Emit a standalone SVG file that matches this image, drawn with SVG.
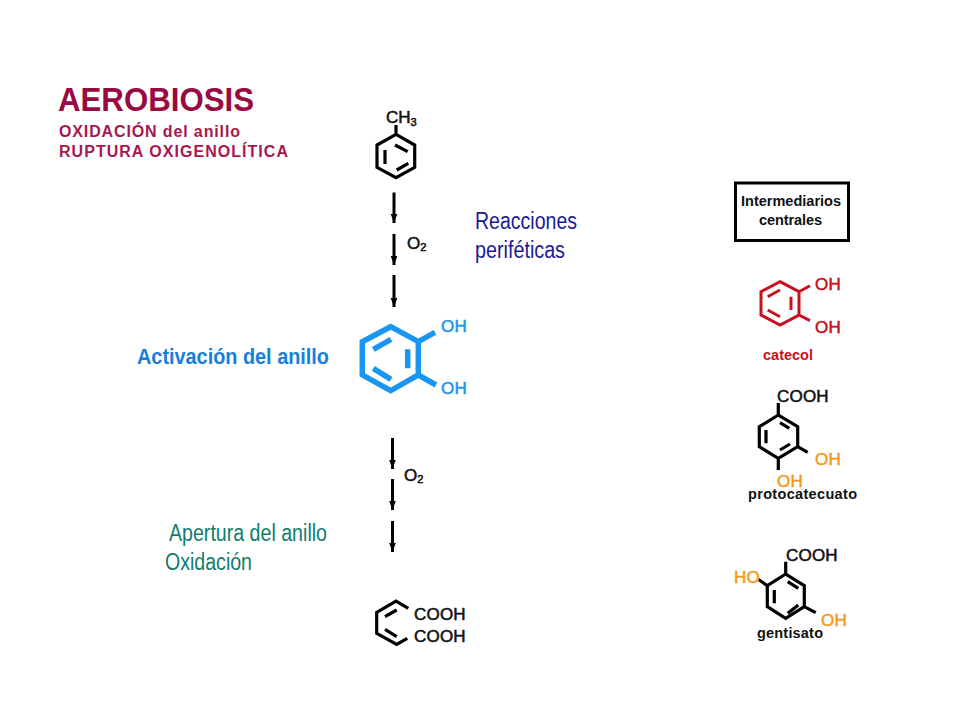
<svg xmlns="http://www.w3.org/2000/svg" width="960" height="720" viewBox="0 0 960 720">
<style>
text{font-family:"Liberation Sans",Arial,sans-serif}
.b{font-weight:bold}
.k{fill:none;stroke:#000;stroke-width:3.200;stroke-linejoin:miter}
.lab{font-size:17px;letter-spacing:.2px;fill:#111;stroke:#111;stroke-width:.55}
.tag{font-size:14.500px;font-weight:bold;fill:#111}
.sub{font-size:16px;font-weight:bold;fill:#a8174f}
.red{fill:#c8101e;stroke:#c8101e}.org{fill:#f59a1c;stroke:#f59a1c}.blu{fill:#1a96f0;stroke:#1a96f0}
.arrow{stroke:#000;stroke-width:3;fill:none;marker-end:url(#ah)}
</style>
<defs>
<marker id="ah" markerUnits="userSpaceOnUse" markerWidth="10" markerHeight="10" refX="9" refY="4" orient="auto">
<path d="M0 0.700L9 4L0 7.300Z" fill="#000"/>
</marker>
</defs>
<rect width="960" height="720" fill="#fff"/>

<g id="title">
<text x="58" y="111" class="b" font-size="33" fill="#990a42" textLength="196" lengthAdjust="spacingAndGlyphs">AEROBIOSIS</text>
<text x="59" y="137" class="sub" textLength="181">OXIDACIÓN del anillo</text>
<text x="59" y="157" class="sub" textLength="229">RUPTURA OXIGENOLÍTICA</text>
</g>

<g id="connectors">
<path class="arrow" d="M394 192.500V223"/>
<path class="arrow" d="M394 234V265"/>
<path class="arrow" d="M394 275V307"/>
<path class="arrow" d="M392.500 438V469"/>
<path class="arrow" d="M392.500 479V510"/>
<path class="arrow" d="M392.500 521V552"/>
</g>

<g id="o2-top"><text x="407" y="249" class="lab" style="letter-spacing:0">O<tspan font-size="11" dy="2">2</tspan></text></g>
<g id="o2-bottom"><text x="404" y="481" class="lab" style="letter-spacing:0">O<tspan font-size="11" dy="2">2</tspan></text></g>

<g id="toluene">
<path class="k" d="M396 125V134.300L414.700 145V167.300L396 177.700L377 167.300V145L396 134.300M385 150V164M395 145L407.700 151.700M396.700 170L408.300 163.300"/>
<text x="386" y="123" class="lab" style="letter-spacing:0">CH<tspan font-size="11" dy="3">3</tspan></text>
</g>

<g id="reacciones" fill="#1a1a96" font-size="23">
<text x="475" y="228.500" textLength="102" lengthAdjust="spacingAndGlyphs">Reacciones</text>
<text x="475" y="257.500" textLength="90" lengthAdjust="spacingAndGlyphs">periféticas</text>
</g>

<g id="intermediarios">
<rect x="735.500" y="183" width="113" height="57.500" fill="#fff" stroke="#000" stroke-width="3"/>
<text x="741" y="206" class="tag" textLength="100">Intermediarios</text>
<text x="759" y="225" class="tag" textLength="63">centrales</text>
</g>

<g id="catecol">
<path fill="none" stroke="#c8101e" stroke-width="3" d="M780 281.700L799 291.700V315L780 325L761 315V291.700ZM799 291.700L810 285.700M799 315L810 320.700M767.700 296.700L780 290M791 296.700V310M767.700 310L780 316.700"/>
<text x="815" y="290" class="lab red">OH</text>
<text x="815" y="333" class="lab red">OH</text>
<text x="763" y="359.500" class="tag" style="fill:#c8101e" textLength="50">catecol</text>
</g>

<g id="activacion">
<path fill="none" stroke="#1a96f0" stroke-width="5.500" d="M390.700 326.700L418.300 341.700V375L390.700 390.700L362.300 375V341.700ZM418.300 341.700L435 332.300M418.300 375L436 385M373.300 349.300L391 339.300M407.700 349.300V368.300M373.300 368.300L391 379.300"/>
<text x="441" y="332" class="lab blu">OH</text>
<text x="441" y="394" class="lab blu">OH</text>
<text x="137" y="364" class="b" font-size="22" fill="#1580dc" textLength="192" lengthAdjust="spacingAndGlyphs">Activación del anillo</text>
</g>

<g id="protocatecuato">
<path class="k" d="M778.300 403V415L797.700 426.700V446.700L778.300 458.300L759.300 446.700V426.700L778.300 415M778.300 458.300V470M797.700 446.700L807.700 452.300M766 430V443.300M780 422.700L789.300 428.300M780 450L790 444"/>
<text x="777" y="402" class="lab">COOH</text>
<text x="815" y="465" class="lab org">OH</text>
<text x="777" y="487" class="lab org">OH</text>
<text x="748" y="499" class="tag" textLength="109">protocatecuato</text>
</g>

<g id="apertura" fill="#0f7d6e" font-size="23">
<text x="169" y="541" textLength="158" lengthAdjust="spacingAndGlyphs">Apertura del anillo</text>
<text x="165" y="570" textLength="87" lengthAdjust="spacingAndGlyphs">Oxidación</text>
</g>

<g id="gentisato">
<path class="k" d="M785.700 561.700V574L804.300 585.700V606.700L785.700 618.300L767.300 606.700V585.700L785.700 574M767.300 585.700L758.300 579.300M804.300 606.700L815.700 612.700M774.300 590V603.300M787.700 581.700L798.300 588.300M787.700 613.300L798.300 605"/>
<text x="786" y="561" class="lab">COOH</text>
<text x="734" y="583" class="lab org">HO</text>
<text x="821" y="626" class="lab org">OH</text>
<text x="757" y="638" class="tag" textLength="66">gentisato</text>
</g>

<g id="muconato">
<path class="k" d="M408.300 608.300L396 601L376.700 612.300V633.300L396.700 644.300L407.300 638.300M385 616.700L396.700 610M385 629.300L396.700 636.700"/>
<text x="414" y="620" class="lab">COOH</text>
<text x="414" y="641.500" class="lab">COOH</text>
</g>
</svg>
